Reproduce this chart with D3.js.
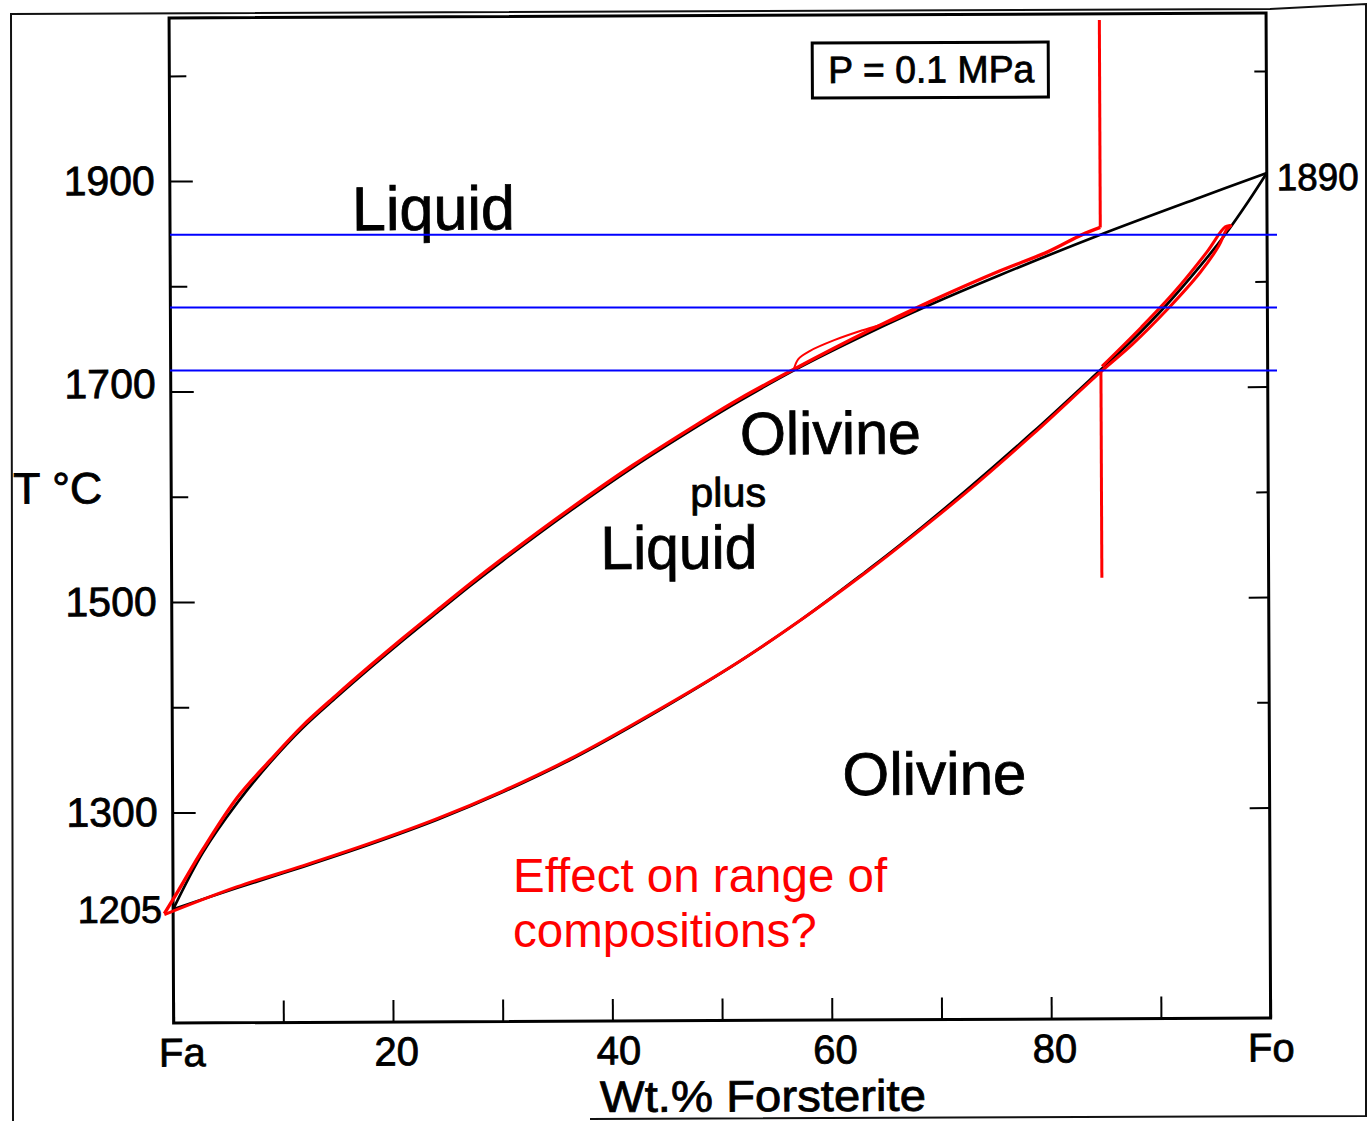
<!DOCTYPE html>
<html>
<head>
<meta charset="utf-8">
<script src="https://cdn.jsdelivr.net/npm/d3@7"></script>
<style>
body { margin: 0; background: #fff; }
svg text { font-family: "Liberation Sans", Arial, sans-serif; }
</style>
</head>
<body>
<script>
// Fa-Fo binary, values (wt.% Fo, degrees C)
const liqFo = [0, 2.75, 5.9, 8.9, 11.9, 15, 18, 21.1, 24.2, 27.2, 30.2, 36.1, 42.1, 48.2, 51.9, 56.9, 63.5, 69.2, 75.6, 84.8, 93.9, 100];
const liqT  = [1208, 1262, 1309, 1347, 1380, 1409, 1436, 1463, 1489, 1514, 1538, 1583, 1626, 1666, 1689, 1718, 1752, 1779, 1807, 1845, 1880, 1903];
const solFo = [0, 5.8, 11.9, 18, 24.1, 30.1, 36.2, 41.7, 51.1, 57.3, 63.4, 66.4, 72.5, 78.6, 84.7, 87.7, 90.8, 93.9, 96.2, 98.3, 100];
const solT  = [1208, 1228, 1248, 1269, 1292, 1318, 1348, 1379, 1437, 1480, 1527, 1551, 1603, 1658, 1716, 1745, 1778, 1815, 1845, 1876, 1903];

// red hand-drawn overlay
const redLiqFo = [-0.8, 0.5, 2.75, 5.9, 8.9, 11.9, 15, 18, 21.1, 24.2, 27.2, 30.2, 36.1, 42.1, 48.2, 51.9, 56.9, 63.5, 69.2, 75.6, 80, 83.1, 84.8];
const redLiqT  = [1204, 1226, 1265, 1314, 1349, 1382, 1411, 1438, 1465, 1491, 1516, 1540, 1585, 1628, 1668, 1691, 1719, 1754, 1782, 1811, 1829, 1845, 1852];
const hookFo = [56.8, 57.2, 58.3, 60.5, 63, 65.5, 68];
const hookT  = [1718, 1728, 1736, 1746, 1755, 1763, 1775];
const redSolFo = [-0.8, 5.8, 11.9, 18, 24.1, 30.1, 36.2, 41.7, 51.1, 57.3, 63.4, 66.4, 72.5, 78.6, 84.7, 87.7, 90.8, 93.9, 95.6, 96.3, 96.7, 96.2, 94.5, 91.5, 88.5, 84.9];
const redSolT  = [1203, 1229, 1249, 1270, 1293, 1319, 1349, 1380, 1437, 1480, 1526, 1550, 1601, 1656, 1714, 1741, 1773, 1809, 1834, 1849, 1853, 1852, 1828, 1790, 1757, 1720];
const redBarFo = 84.8;
const redUpperT = [1852, 2049];
const redLowerT = [1716, 1519];

// blue isotherms
const blueT = [1849, 1780, 1720];

// ticks
const yMajorT = [1900, 1700, 1500, 1300];
const yMinorT = [2000, 1800, 1600, 1400];
const xTicks = [0, 10, 20, 30, 40, 50, 60, 70, 80, 90, 100];
const xTickLabels = ["Fa", "", "20", "", "40", "", "60", "", "80", "", "Fo"];

const w = 1371, h = 1121;

const xScale = d3.scaleLinear().domain([0, 100]).range([171, 1268]);
const yScale = d3.scaleLinear().domain([1100, 2055]).range([1023, 18]);

const svg = d3.select("body").append("svg")
    .attr("width", w).attr("height", h);

// page edge of the scan
svg.append("path")
    .attr("d", "M13,1121 L11,14 L1270,9 L1366,4 L1366,1116 L590,1119")
    .attr("fill", "none").attr("stroke", "#111").attr("stroke-width", 2);

// the scanned figure sits slightly skewed
const g = svg.append("g").attr("transform", "rotate(-0.26,171,444)");

g.append("rect")
    .attr("x", xScale(0)).attr("y", yScale(2055))
    .attr("width", xScale(100) - xScale(0))
    .attr("height", yScale(1100) - yScale(2055))
    .attr("fill", "none").attr("stroke", "#000").attr("stroke-width", 3);

function styleAxis(sel, size) {
    sel.select(".domain").remove();
    sel.selectAll(".tick line").attr("stroke", "#000").attr("stroke-width", 2);
    sel.selectAll("text")
        .attr("font-family", "Liberation Sans, Arial, sans-serif")
        .attr("font-size", size).attr("fill", "#000")
        .attr("stroke", "#000").attr("stroke-width", 0.8);
}

// left axis
g.append("g").attr("transform", "translate(" + xScale(0) + ",0)")
    .call(d3.axisLeft(yScale).tickValues(yMinorT).tickSizeInner(-17).tickSizeOuter(0).tickFormat(""))
    .call(s => styleAxis(s, 41));
g.append("g").attr("transform", "translate(" + xScale(0) + ",0)")
    .call(d3.axisLeft(yScale).tickValues(yMajorT).tickSizeInner(-23).tickSizeOuter(0).tickPadding(15).tickFormat(d3.format("d")))
    .call(s => styleAxis(s, 41))
    .call(s => s.selectAll("text").filter(d => d === 1700).attr("dy", "0.14em"));

// right axis, ticks only
g.append("g").attr("transform", "translate(" + xScale(100) + ",0)")
    .call(d3.axisLeft(yScale).tickValues(yMinorT).tickSizeInner(12).tickSizeOuter(0).tickFormat(""))
    .call(s => styleAxis(s, 41));
g.append("g").attr("transform", "translate(" + xScale(100) + ",0)")
    .call(d3.axisLeft(yScale).tickValues(yMajorT.slice(1)).tickSizeInner(20).tickSizeOuter(0).tickFormat(""))
    .call(s => styleAxis(s, 41));

// bottom axis
g.append("g").attr("transform", "translate(0," + yScale(1100) + ")")
    .call(d3.axisBottom(xScale).tickValues(xTicks).tickSizeInner(-22).tickSizeOuter(0).tickPadding(15)
        .tickFormat((d, i) => xTickLabels[i]))
    .call(s => styleAxis(s, 40))
    .call(s => s.selectAll("text").attr("dx", d => d === 0 ? 8 : (d === 40 ? 6 : (d === 100 ? 0 : 3))));

// phase boundaries
const line = d3.line()
    .x(d => xScale(d[0]))
    .y(d => yScale(d[1]))
    .curve(d3.curveCatmullRom);

const liq = liqFo.map((d, i) => [d, liqT[i]]);
const sol = solFo.map((d, i) => [d, solT[i]]);

[liq, sol].forEach(c => {
    g.append("path").attr("d", line(c))
        .attr("fill", "none").attr("stroke", "#000").attr("stroke-width", 2.7);
});

// texts of the scan
function scanText(x, y, txt, size, len) {
    const t = g.append("text").attr("x", x).attr("y", y).text(txt)
        .attr("font-size", size).attr("fill", "#000")
        .attr("stroke", "#000").attr("stroke-width", 0.8);
    if (len) t.attr("textLength", len).attr("lengthAdjust", "spacingAndGlyphs");
    return t;
}

scanText(xScale(0) - 11, yScale(liqT[0]), "1205", 38).attr("text-anchor", "end").attr("dy", "0.35em");
scanText(xScale(100) + 10, yScale(liqT[liqT.length - 1]) + 4, "1890", 38, 82).attr("dy", "0.35em");
scanText(13, 503, "T °C", 44, 89);
scanText(597, 1114, "Wt.% Forsterite", 44, 326);
scanText(353, 231, "Liquid", 62, 163);
scanText(740, 457, "Olivine", 60, 181);
scanText(690, 509, "plus", 41, 76);
scanText(600, 571, "Liquid", 61, 157);
scanText(841, 798, "Olivine", 60, 184);

g.append("rect").attr("x", 814).attr("y", 46).attr("width", 236).attr("height", 55)
    .attr("fill", "none").attr("stroke", "#000").attr("stroke-width", 3);
scanText(830, 86, "P = 0.1 MPa", 38, 206);

// red overlay
const redLiq = redLiqFo.map((d, i) => [d, redLiqT[i]]);
const hook = hookFo.map((d, i) => [d, hookT[i]]);
const redSol = redSolFo.map((d, i) => [d, redSolT[i]]);

g.append("path").attr("d", line(redLiq))
    .attr("fill", "none").attr("stroke", "#ff0000").attr("stroke-width", 3.4);
g.append("path").attr("d", line(hook))
    .attr("fill", "none").attr("stroke", "#ff0000").attr("stroke-width", 2);
g.append("path").attr("d", line(redSol))
    .attr("fill", "none").attr("stroke", "#ff0000").attr("stroke-width", 3)
    .attr("stroke-linejoin", "round");

[redUpperT, redLowerT].forEach(t => {
    g.append("path").attr("d", d3.line()(t.map(v => [xScale(redBarFo), yScale(v)])))
        .attr("fill", "none").attr("stroke", "#ff0000").attr("stroke-width", 3);
});

// blue lines are drawn straight on top
svg.selectAll(".iso").data(blueT).enter().append("line")
    .attr("class", "iso")
    .attr("x1", xScale(0) - 1).attr("x2", xScale(100) + 9)
    .attr("y1", d => yScale(d)).attr("y2", d => yScale(d))
    .attr("stroke", "#0000ff").attr("stroke-width", 2);

// question
const q = svg.append("text").attr("x", 513).attr("y", 892)
    .attr("font-size", 47.5).attr("fill", "#ff0000");
q.append("tspan").attr("x", 513).text("Effect on range of");
q.append("tspan").attr("x", 513).attr("dy", 55).text("compositions?");
</script>
</body>
</html>
